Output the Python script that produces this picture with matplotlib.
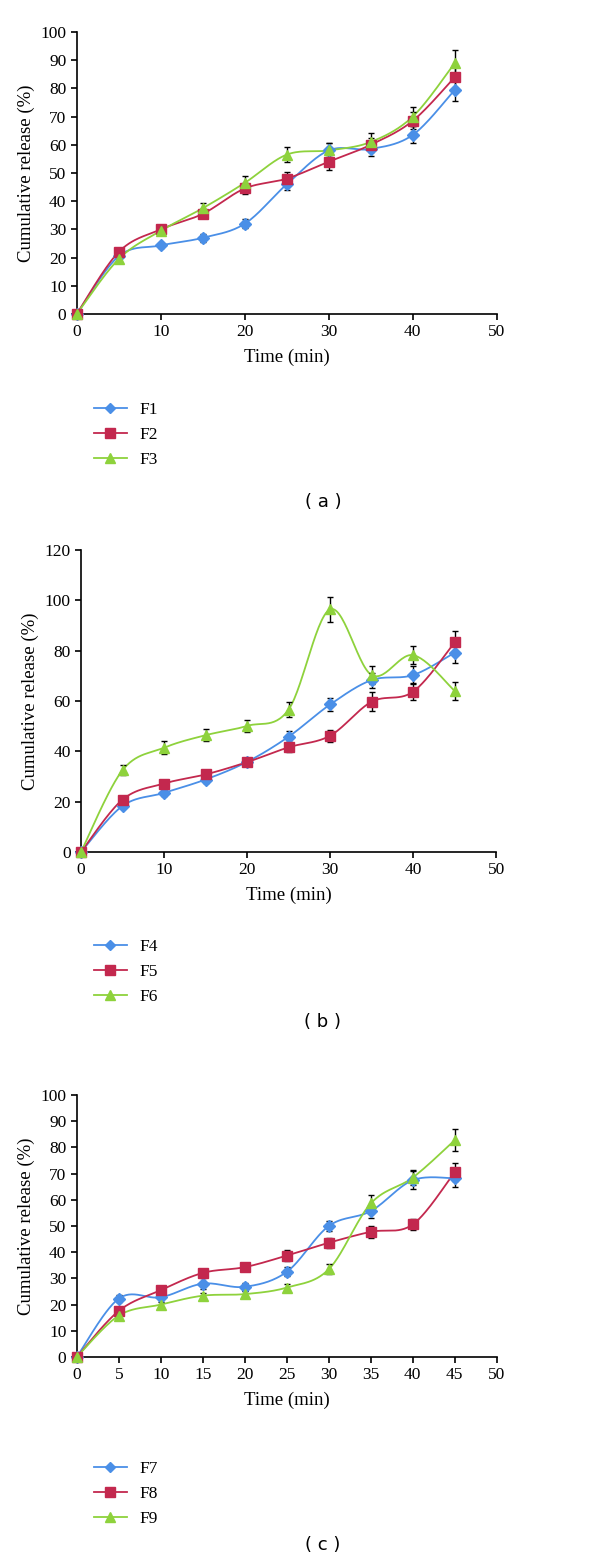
import numpy as np
import matplotlib
matplotlib.use("Agg")
import matplotlib.pyplot as plt

plt.rcParams["font.family"] = ["Liberation Serif", "DejaVu Serif"]

time = [0, 5, 10, 15, 20, 25, 30, 35, 40, 45]

# panel (a)
f1 = [0, 20.5, 24.3, 27, 32, 46, 58, 58.5, 63.5, 79.5]
f2 = [0, 22, 30, 35.5, 44.5, 48, 54, 60, 68.5, 84]
f3 = [0, 19.5, 29.5, 37.5, 46.5, 56.5, 58, 61, 70, 89]
f1_err = [0, 1, 1, 1.5, 1.5, 2, 2.5, 2.5, 3, 4]
f2_err = [0, 1, 1, 1.5, 2, 2.5, 3, 2.5, 3, 4]
f3_err = [0, 1, 1, 1.7, 2.3, 2.7, 2.5, 3, 3.5, 4.5]

# panel (b)
f4 = [0, 18.3, 23.5, 28.8, 35.8, 45.8, 58.6, 68.3, 70.3, 79.2]
f5 = [0, 20.8, 27.2, 30.8, 35.7, 41.6, 46.2, 59.7, 63.7, 83.3]
f6 = [0, 32.5, 41.4, 46.4, 50.1, 56.6, 96.4, 70.3, 78.2, 64]
f4_err = [0, 1, 1.2, 1.5, 1.5, 2.3, 2.7, 3, 3.5, 4.2]
f5_err = [0, 1, 1.2, 1.5, 1.5, 2, 2.4, 3.7, 3.3, 4.5]
f6_err = [0, 2, 2.6, 2.4, 2.5, 3, 5, 3.7, 3.6, 3.5]

# panel (c)
f7 = [0, 22.3, 22.8, 28, 26.8, 32.5, 50, 55.7, 67.5, 68.2]
f8 = [0, 17.6, 25.5, 32.1, 34.3, 38.7, 43.6, 47.8, 50.6, 70.6]
f9 = [0, 15.8, 20, 23.4, 24, 26.5, 33.5, 58.6, 68.5, 82.8]
f7_err = [0, 1.2, 1.2, 2, 1.5, 1.7, 2, 2.5, 3.5, 3.2]
f8_err = [0, 1, 1.2, 1.5, 1.5, 2, 2, 2.2, 2, 3.5]
f9_err = [0, 1, 1, 1.2, 1.2, 1.5, 2, 3.3, 3, 4.2]

colors = ["#4A8FE7", "#C3284E", "#8ED23C"]
markers = ["D", "s", "^"]
msizes = [6, 7.5, 7.5]


def smooth(x, y, n=30):
    # Catmull-Rom style bezier smoothing, like spreadsheet "smoothed line"
    x = np.asarray(x, float)
    y = np.asarray(y, float)
    xs, ys = [], []
    for i in range(len(x) - 1):
        p0 = (x[max(i - 1, 0)], y[max(i - 1, 0)])
        p1 = (x[i], y[i])
        p2 = (x[i + 1], y[i + 1])
        p3 = (x[min(i + 2, len(x) - 1)], y[min(i + 2, len(y) - 1)])
        c1 = (p1[0] + (p2[0] - p0[0]) / 6, p1[1] + (p2[1] - p0[1]) / 6)
        c2 = (p2[0] - (p3[0] - p1[0]) / 6, p2[1] - (p3[1] - p1[1]) / 6)
        t = np.linspace(0, 1, n)
        bx = ((1 - t) ** 3 * p1[0] + 3 * (1 - t) ** 2 * t * c1[0]
              + 3 * (1 - t) * t ** 2 * c2[0] + t ** 3 * p2[0])
        by = ((1 - t) ** 3 * p1[1] + 3 * (1 - t) ** 2 * t * c1[1]
              + 3 * (1 - t) * t ** 2 * c2[1] + t ** 3 * p2[1])
        xs.extend(bx)
        ys.extend(by)
    return xs, ys


panels = [
    dict(rect=[0.128, 0.7989, 0.700, 0.1806], series=[f1, f2, f3],
         errs=[f1_err, f2_err, f3_err], names=["F1", "F2", "F3"],
         ymax=100, ystep=10, xticks=[0, 10, 20, 30, 40, 50],
         leg_y=1 - 395 / 1561, tag="( a )", tag_y=1 - 502 / 1561),
    dict(rect=[0.135, 0.4542, 0.692, 0.1935], series=[f4, f5, f6],
         errs=[f4_err, f5_err, f6_err], names=["F4", "F5", "F6"],
         ymax=120, ystep=20, xticks=[0, 10, 20, 30, 40, 50],
         leg_y=1 - 932 / 1561, tag="( b )", tag_y=1 - 1022 / 1561),
    dict(rect=[0.128, 0.1307, 0.700, 0.1678], series=[f7, f8, f9],
         errs=[f7_err, f8_err, f9_err], names=["F7", "F8", "F9"],
         ymax=100, ystep=10, xticks=list(range(0, 55, 5)),
         leg_y=1 - 1454 / 1561, tag="( c )", tag_y=1 - 1545 / 1561),
]

fig = plt.figure(figsize=(6, 15.61), dpi=100)

for p in panels:
    ax = fig.add_axes(p["rect"])
    handles = []
    for vals, err, name, c, m, ms in zip(p["series"], p["errs"], p["names"],
                                         colors, markers, msizes):
        sx, sy = smooth(time, vals)
        ax.plot(sx, sy, color=c, lw=1.3, zorder=2)
        ax.errorbar(time, vals, yerr=err, fmt="none", ecolor="black",
                    elinewidth=1.0, capsize=2.5, capthick=1.0, zorder=3)
        ax.plot(time, vals, ls="none", marker=m, ms=ms, color=c,
                mec=c, zorder=4, clip_on=False)
        h, = ax.plot([], [], color=c, lw=1.3, marker=m, ms=ms - 1, mec=c,
                     label=name)
        handles.append(h)
    ax.set_xlim(0, 50)
    ax.set_ylim(0, p["ymax"])
    ax.set_xticks(p["xticks"])
    ax.set_yticks(np.arange(0, p["ymax"] + 1, p["ystep"]))
    ax.spines["top"].set_visible(False)
    ax.spines["right"].set_visible(False)
    for s in ["left", "bottom"]:
        ax.spines[s].set_linewidth(1.2)
    ax.tick_params(direction="out", length=4, width=1.2, labelsize=12.5)
    ax.set_xlabel("Time (min)", fontsize=13.5, labelpad=6)
    ax.set_ylabel("Cumulative release (%)", fontsize=13.5, labelpad=4)
    ax.legend(handles=handles, loc="upper left",
              bbox_to_anchor=(0.145, p["leg_y"]),
              bbox_transform=fig.transFigure, frameon=False, fontsize=12.5,
              handlelength=1.9, handletextpad=0.7, labelspacing=0.5,
              borderaxespad=0)
    fig.text(323 / 600, p["tag_y"], p["tag"], ha="center", va="center",
             fontsize=13, family=["DejaVu Sans"])

fig.savefig("out.png", dpi=100)
